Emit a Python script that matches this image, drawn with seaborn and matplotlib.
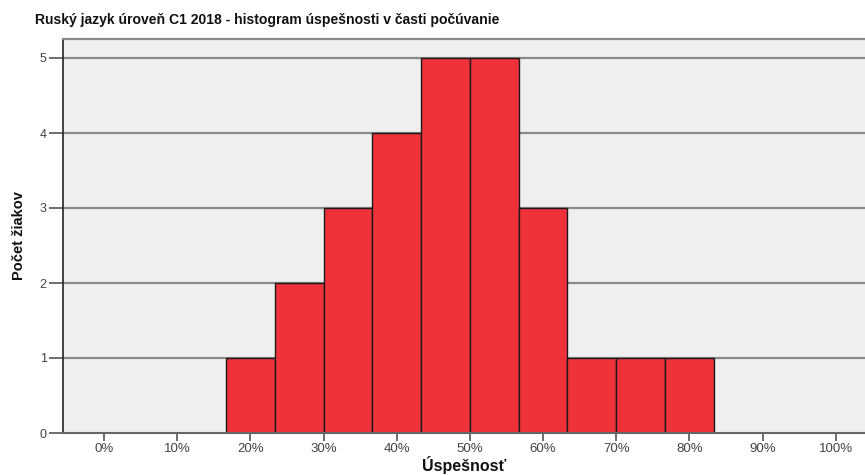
import numpy as np
import pandas as pd
import matplotlib
matplotlib.use("Agg")
import matplotlib.pyplot as plt
import seaborn as sns

# Histogram bins (percent) and number of students in each bin
bin_edges = [16.667, 23.333, 30.0, 36.667, 43.333, 50.0,
             56.667, 63.333, 70.0, 76.667, 83.333]
counts = [1, 2, 3, 4, 5, 5, 3, 1, 1, 1]
x_ticks = [0, 10, 20, 30, 40, 50, 60, 70, 80, 90, 100]
x_tick_labels = [f"{t}%" for t in x_ticks]
y_ticks = [0, 1, 2, 3, 4, 5]

title = "Ruský jazyk úroveň C1 2018 - histogram úspešnosti v časti počúvanie"
x_label = "Úspešnosť"
y_label = "Počet žiakov"

centers = [(a + b) / 2 for a, b in zip(bin_edges[:-1], bin_edges[1:])]
df = pd.DataFrame({"uspesnost": centers, "pocet": counts})

sns.set_theme(style="white")
plt.rcParams["font.family"] = ["Liberation Sans", "DejaVu Sans"]

fig = plt.figure(figsize=(8.65, 4.75), dpi=100)
ax = fig.add_axes([63.3 / 865, 1 - 433 / 475, 1 - 63.3 / 865, (433 - 38.5) / 475])
ax.set_facecolor("#efefef")

# horizontal reference lines behind the bars
for y in y_ticks[1:]:
    ax.axhline(y, color="#8a8a8a", lw=1.6, zorder=0)

sns.histplot(data=df, x="uspesnost", weights="pocet", bins=bin_edges,
             color="#ef313a", alpha=1.0, edgecolor="#1a1a1a", linewidth=1.0,
             ax=ax, zorder=2)

ax.set_xlim(-5.56, 104.0)
ax.set_ylim(0, 5.26)
ax.set_xticks(x_ticks)
ax.set_xticklabels(x_tick_labels)
ax.set_yticks(y_ticks)

ax.tick_params(axis="x", direction="out", length=6, width=1.2, color="#555555",
               labelsize=9.5, labelcolor="#444444", pad=1, bottom=True)
ax.tick_params(axis="y", direction="out", length=10, width=1.2, color="#555555",
               labelsize=9, labelcolor="#444444", pad=2, left=True)

ax.spines["left"].set_color("#222222")
ax.spines["left"].set_linewidth(1.2)
ax.spines["bottom"].set_color("#666666")
ax.spines["bottom"].set_linewidth(1.5)
ax.spines["top"].set_visible(True)
ax.spines["top"].set_color("#8a8a8a")
ax.spines["top"].set_linewidth(1.6)
ax.spines["right"].set_visible(False)

ax.set_xlabel(x_label, fontsize=11.5, fontweight="bold", color="#111111", labelpad=1)
ax.set_ylabel(y_label, fontsize=10.5, fontweight="bold", color="#111111", labelpad=10)

fig.text(35 / 865, 1 - 20 / 475, title, fontsize=10.1, fontweight="bold",
         color="#111111", ha="left", va="center")

fig.savefig("out.png", dpi=100)
